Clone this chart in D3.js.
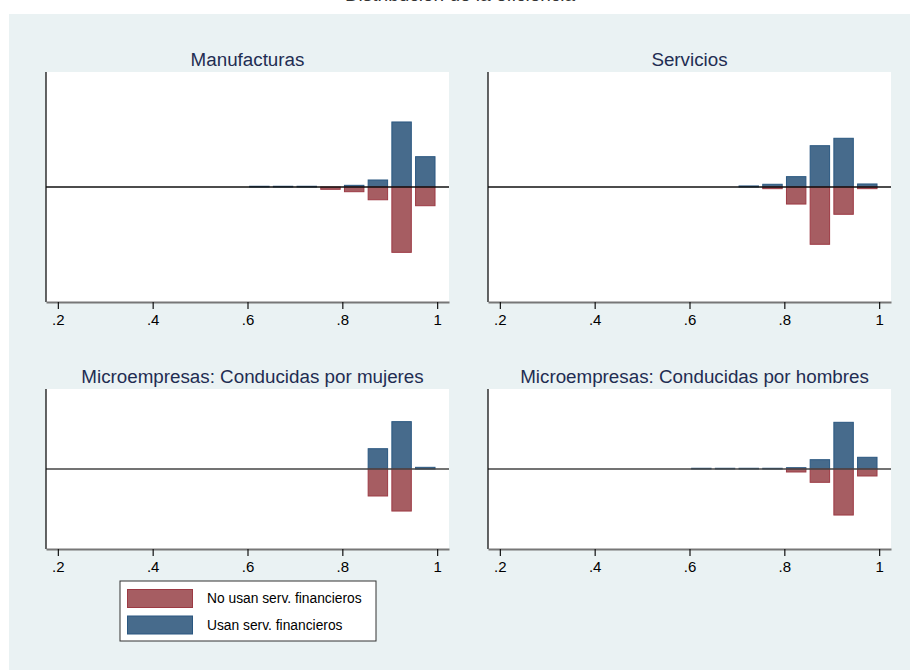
<!DOCTYPE html>
<html>
<head>
<meta charset="utf-8">
<script src="https://cdn.jsdelivr.net/npm/d3@7"></script>
<style>
  body { margin: 0; background: #fff; }
  svg { display: block; font-family: "Liberation Sans", Arial, sans-serif; }
</style>
</head>
<body>
<script>
// bin centres of the histogram (width .05)
const binCenters = [0.625, 0.675, 0.725, 0.775, 0.825, 0.875, 0.925, 0.975];
const xTicks = [0.2, 0.4, 0.6, 0.8, 1];

const panelTitles = [
  'Manufacturas',
  'Servicios',
  'Microempresas: Conducidas por mujeres',
  'Microempresas: Conducidas por hombres'
];

// "Usan serv. financieros" (drawn upward)
const usanManuf   = [0.007, 0.007, 0.007, 0, 0.016, 0.067, 0.622, 0.29];
const usanServ    = [0, 0, 0.01, 0.026, 0.099, 0.395, 0.466, 0.029];
const usanMujeres = [0, 0, 0, 0, 0, 0.279, 0.651, 0.023];
const usanHombres = [0.01, 0.01, 0.01, 0.01, 0.018, 0.128, 0.642, 0.161];

// "No usan serv. financieros" (drawn downward)
const noUsanManuf   = [0, 0, 0, 0.022, 0.045, 0.122, 0.625, 0.179];
const noUsanServ    = [0, 0, 0, 0.016, 0.163, 0.548, 0.261, 0.016];
const noUsanMujeres = [0, 0, 0, 0, 0, 0.371, 0.578, 0];
const noUsanHombres = [0, 0, 0, 0, 0.041, 0.183, 0.633, 0.096];

const legendLabels = ['No usan serv. financieros', 'Usan serv. financieros'];

const usanSeries = [usanManuf, usanServ, usanMujeres, usanHombres];
const noUsanSeries = [noUsanManuf, noUsanServ, noUsanMujeres, noUsanHombres];

const W = 910, H = 670;
const blue = { fill: '#476b8c', stroke: '#2a5780' };
const red = { fill: '#a65d62', stroke: '#9c3a44' };

const svg = d3.select('body').append('svg')
  .attr('width', W)
  .attr('height', H);

svg.append('rect')
  .attr('x', 9).attr('y', 14)
  .attr('width', W - 9).attr('height', H - 14)
  .attr('fill', '#eaf2f3');

// overall title, cut off by the top of the picture (as in the source)
svg.append('text')
  .attr('x', 460).attr('y', 1)
  .attr('text-anchor', 'middle')
  .attr('font-size', 19)
  .attr('fill', '#333')
  .text('Distribución de la eficiencia');

// plot boxes: [left, top, bottom]
const boxes = [
  [46, 72, 302],
  [488, 72, 302],
  [46, 389, 549],
  [488, 389, 549]
];
const plotW = 403;
const halfBar = 0.0205;

boxes.forEach((b, i) => {
  const [x0, top, bottom] = b;
  const g = svg.append('g');

  const x = d3.scaleLinear().domain([0.175, 1.025]).range([x0, x0 + plotW]);
  const y = d3.scaleLinear().domain([-1.1, 1.1]).range([bottom, top]);

  g.append('rect')
    .attr('x', x0).attr('y', top)
    .attr('width', plotW).attr('height', bottom - top)
    .attr('fill', '#fff');

  // long titles sit a little right of the plot centre
  const shift = panelTitles[i].length > 20 ? 5 : 0;
  g.append('text')
    .attr('x', x0 + plotW / 2 + shift)
    .attr('y', top - 6)
    .attr('text-anchor', 'middle')
    .attr('font-size', 18.8)
    .attr('fill', '#1f2d52')
    .text(panelTitles[i]);

  const up = binCenters.map((c, k) => ({ c, v: usanSeries[i][k] })).filter(d => d.v > 0);
  const down = binCenters.map((c, k) => ({ c, v: noUsanSeries[i][k] })).filter(d => d.v > 0);

  g.selectAll('rect.usan')
    .data(up)
    .enter()
    .append('rect')
    .classed('usan', true)
    .attr('x', d => x(d.c - halfBar))
    .attr('width', d => x(d.c + halfBar) - x(d.c - halfBar))
    .attr('y', d => y(d.v))
    .attr('height', d => y(0) - y(d.v))
    .attr('fill', blue.fill)
    .attr('stroke', blue.stroke)
    .attr('stroke-width', 1);

  g.selectAll('rect.nousan')
    .data(down)
    .enter()
    .append('rect')
    .classed('nousan', true)
    .attr('x', d => x(d.c - halfBar))
    .attr('width', d => x(d.c + halfBar) - x(d.c - halfBar))
    .attr('y', y(0))
    .attr('height', d => y(-d.v) - y(0))
    .attr('fill', red.fill)
    .attr('stroke', red.stroke)
    .attr('stroke-width', 1);

  // zero line
  g.append('line')
    .attr('x1', x0).attr('x2', x0 + plotW)
    .attr('y1', y(0)).attr('y2', y(0))
    .attr('stroke', i < 2 ? '#111' : '#444')
    .attr('stroke-width', 1.3);

  // left axis line
  g.append('line')
    .attr('x1', x0).attr('x2', x0)
    .attr('y1', top).attr('y2', bottom)
    .attr('stroke', '#111')
    .attr('stroke-width', 1.3);

  const axis = d3.axisBottom(x)
    .tickValues(xTicks)
    .tickSize(7)
    .tickSizeOuter(0)
    .tickPadding(5)
    .tickFormat(d => d === 1 ? '1' : d3.format('.1f')(d).replace(/^0/, ''));

  const ax = g.append('g')
    .attr('transform', `translate(0,${bottom})`)
    .call(axis);
  ax.select('.domain').attr('stroke', '#777').attr('stroke-width', 2);
  ax.selectAll('.tick line').attr('stroke', '#111').attr('stroke-width', 1.2);
  ax.selectAll('.tick text')
    .attr('font-size', 15)
    .attr('font-family', '"Liberation Sans", Arial, sans-serif')
    .attr('fill', '#000');
});

// legend
const lg = svg.append('g');
lg.append('rect')
  .attr('x', 120).attr('y', 581)
  .attr('width', 256).attr('height', 60)
  .attr('fill', '#fff')
  .attr('stroke', '#333');

[red, blue].forEach((c, k) => {
  lg.append('rect')
    .attr('x', 127.5).attr('y', 589.5 + k * 26.5)
    .attr('width', 65).attr('height', 18)
    .attr('fill', c.fill)
    .attr('stroke', c.stroke);
  lg.append('text')
    .attr('x', 207).attr('y', 603 + k * 26.5)
    .attr('font-size', 13.8)
    .attr('fill', '#000')
    .text(legendLabels[k]);
});
</script>
</body>
</html>
